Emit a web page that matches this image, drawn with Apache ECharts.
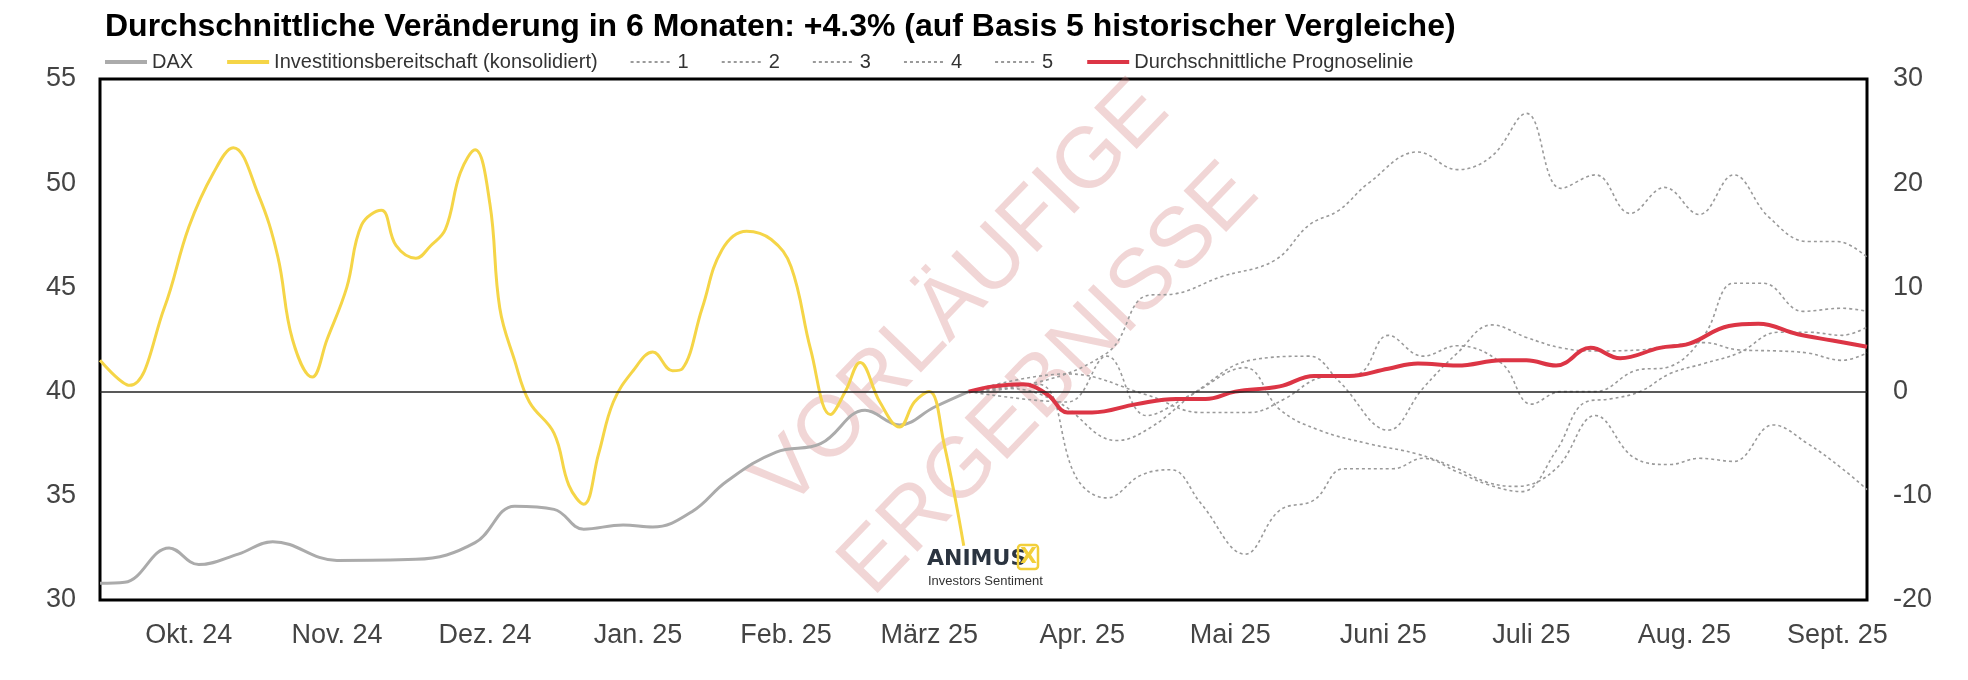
<!DOCTYPE html>
<html><head><meta charset="utf-8">
<script src="https://cdn.jsdelivr.net/npm/echarts@6/dist/echarts.min.js"></script>
<style>html,body{margin:0;padding:0;background:#fff}#c{width:1968px;height:680px}</style>
</head><body><div id="c"></div>
<script>
// x values are days since 2024-09-28
const monthTicks = [18,48,78,109,139,168,199,229,260,290,321,352];
const monthLabels = ['Okt. 24','Nov. 24','Dez. 24','Jan. 25','Feb. 25','März 25','Apr. 25','Mai 25','Juni 25','Juli 25','Aug. 25','Sept. 25'];

const investDays = [0,6,13,18,23,27,32,36,39,43,46,50,53,57,60,64,67,70,73,76,79,81,84,87,92,95,98,101,104,108,112,116,118,122,126,131,136,140,144,148,151,154,158,162,165,168,171,175];
const investVals = [41.5,40.3,44,47.9,50.5,51.7,49.5,46.5,42.5,40.7,42.5,45,48,48.7,47,46.4,47,47.8,50.5,51.6,49,44,41.5,39.5,38,35.5,34.6,37,39.5,41,41.9,41,41.1,44,46.8,47.7,47.3,46,42,38.9,40,41.4,39.5,38.3,39.5,40.0,37.5,32.6];

const daxDays = [0,5,14,20,28,35,48,64,76,84,92,98,106,112,120,127,137,146,155,162,169,176];
const daxVals = [-18.4,-18.3,-15,-16.6,-15.6,-14.4,-16.2,-16.1,-14.5,-11,-11.3,-13.2,-12.8,-13,-11.5,-8.6,-5.8,-5,-1.8,-3.2,-1.5,0];

const progDays = [176,181,187,192,196,201,210,218,224,230,239,246,253,261,267,275,284,289,295,302,308,316,322,330,336,344,351,358];
const progVals = [0,0.5,0.7,-0.3,-2,-2,-1.2,-0.7,-0.7,0,0.5,1.5,1.5,2.2,2.7,2.5,3,3,2.5,4.2,3.2,4.2,4.6,6.3,6.5,5.5,4.9,4.3];

const s1Days = [176,184,204,212,218,227,238,245,251,257,267,275,282,289,296,303,310,317,324,331,338,346,352,358];
const s1Vals = [0,0.3,3.7,9.2,9.4,11,12.6,16,17.4,20,23,21.3,22.6,26.7,19.5,20.8,17.1,19.6,17,20.8,16.8,14.4,14.4,12.9];
const s2Days = [176,196,212,223,233,240,247,255,261,268,275,284,290,296,303,311,318,325,331,337,345,353,358];
const s2Vals = [0,1.7,-0.3,-2,-2,-0.7,1.3,1.7,5.4,3.4,4.4,2.7,-1.2,0,0,2,2.4,5.4,10.4,10.4,7.7,8,7.7];
const s3Days = [176,190,198,204,211,217,223,232,239,246,252,262,268,275,281,288,295,301,306,312,318,325,332,340,346,353,358];
const s3Vals = [0,0.7,-8.4,-10.2,-8,-7.5,-10.7,-15.6,-11.4,-10.4,-7.4,-7.4,-6.4,-7.7,-8.9,-9.6,-5.7,-1,-0.7,0,1.7,2.7,3.7,5.7,5.7,5.4,6.2];
const s4Days = [176,196,204,212,221,232,239,247,257,267,275,281,287,295,303,311,318,324,331,339,346,353,358];
const s4Vals = [0,-1,3.4,-2.3,-0.3,2.3,-1.7,-3.7,-5,-6,-7.4,-8.7,-9.1,-7.4,-2.3,-6.4,-7,-6.4,-6.7,-3.2,-5,-7.4,-9.4];
const s5Days = [176,184,194,206,213,223,233,245,251,261,268,275,282,289,296,303,312,318,325,332,340,346,353,358];
const s5Vals = [0,0.3,-1,-4.7,-3.4,0.3,3,3.4,1,-3.7,0.3,3.7,6.4,5.2,4.2,3.9,4,4.4,4.7,4,3.9,3.7,3,3.7];

const zip = (d, v) => d.map((x, i) => [x, v[i]]);
const dotted = (name, d, v) => ({name, type:'line', yAxisIndex:1, smooth:0.4, symbol:'none', data:zip(d,v),
  lineStyle:{color:'#9a9a9a', width:1.6, type:[3,3]}, itemStyle:{color:'#9a9a9a'}, z:2});

const chart = echarts.init(document.getElementById('c'));
const axisLbl = {color:'#444', fontSize:27, fontFamily:'Liberation Sans, Arial, sans-serif'};
const thick = {width:4};
chart.setOption({
  animation:false,
  title:{text:'Durchschnittliche Veränderung in 6 Monaten: +4.3% (auf Basis 5 historischer Vergleiche)', left:100, top:6,
    textStyle:{fontSize:32, fontWeight:'bold', color:'#000', fontFamily:'Liberation Sans, Arial, sans-serif'}},
  legend:{left:98, top:47, itemWidth:42, itemHeight:10, itemGap:32, itemStyle:{opacity:0},
    textStyle:{fontSize:20, color:'#333', fontFamily:'Liberation Sans, Arial, sans-serif'},
    data:[{name:'DAX', lineStyle:thick},{name:'Investitionsbereitschaft (konsolidiert)', lineStyle:thick},'1','2','3','4','5',
      {name:'Durchschnittliche Prognoselinie', lineStyle:thick}]},
  grid:{left:100, right:101, top:79, bottom:80, show:true, borderColor:'#000', borderWidth:3, backgroundColor:'transparent'},
  xAxis:{type:'value', min:0, max:358, splitLine:{show:false}, axisLine:{show:false}, axisTick:{show:false},
    axisLabel:Object.assign({}, axisLbl, {margin:22, customValues:monthTicks,
      formatter:v => { const i = monthTicks.indexOf(Math.round(v)); return i >= 0 ? monthLabels[i] : ''; }})},
  yAxis:[
    {type:'value', min:30, max:55, interval:5, splitLine:{show:false}, axisLine:{show:false}, axisTick:{show:false}, axisLabel:Object.assign({}, axisLbl, {margin:24})},
    {type:'value', min:-20, max:30, interval:10, splitLine:{show:false}, axisLine:{show:false}, axisTick:{show:false}, axisLabel:Object.assign({}, axisLbl, {margin:26})}
  ],
  graphic:[
    {type:'text', x:1006, y:338, rotation:Math.PI*46/180, z:1,
      style:{text:'VORLÄUFIGE\nERGEBNISSE', align:'center', verticalAlign:'middle', font:'86px "Liberation Sans", Arial, sans-serif',
        fill:'rgba(210,120,120,0.3)', lineHeight:122}},
    {type:'text', x:927, y:548, z:5, style:{text:'ANIMUS', font:'bold 22px "DejaVu Sans", sans-serif', fill:'#2b3440'}},
    {type:'rect', x:1018, y:545, z:5, shape:{width:20, height:24, r:3}, style:{fill:'none', stroke:'#f2cf3a', lineWidth:2.5}},
    {type:'text', x:1020, y:546, z:6, style:{text:'X', font:'bold 22px "DejaVu Sans", sans-serif', fill:'#f2cf3a'}},
    {type:'text', x:928, y:575, z:5, style:{text:'Investors Sentiment', font:'13px "Liberation Sans", Arial, sans-serif', fill:'#333'}}
  ],
  series:[
    {name:'DAX', type:'line', yAxisIndex:1, smooth:0.4, symbol:'none', data:zip(daxDays,daxVals),
      lineStyle:{color:'#ababab', width:3}, itemStyle:{color:'#ababab'}, z:3},
    {name:'Investitionsbereitschaft (konsolidiert)', type:'line', yAxisIndex:0, smooth:0.4, symbol:'none', data:zip(investDays,investVals),
      lineStyle:{color:'#f5d547', width:3}, itemStyle:{color:'#f5d547'}, z:3},
    dotted('1', s1Days, s1Vals), dotted('2', s2Days, s2Vals), dotted('3', s3Days, s3Vals),
    dotted('4', s4Days, s4Vals), dotted('5', s5Days, s5Vals),
    {name:'Durchschnittliche Prognoselinie', type:'line', yAxisIndex:1, smooth:0.4, symbol:'none', data:zip(progDays,progVals),
      lineStyle:{color:'#dc3545', width:4}, itemStyle:{color:'#dc3545'}, z:4,
      markLine:{silent:true, symbol:'none', label:{show:false}, lineStyle:{color:'#222', width:1.5, type:'solid'}, data:[{yAxis:0}]}}
  ]
});
</script></body></html>
